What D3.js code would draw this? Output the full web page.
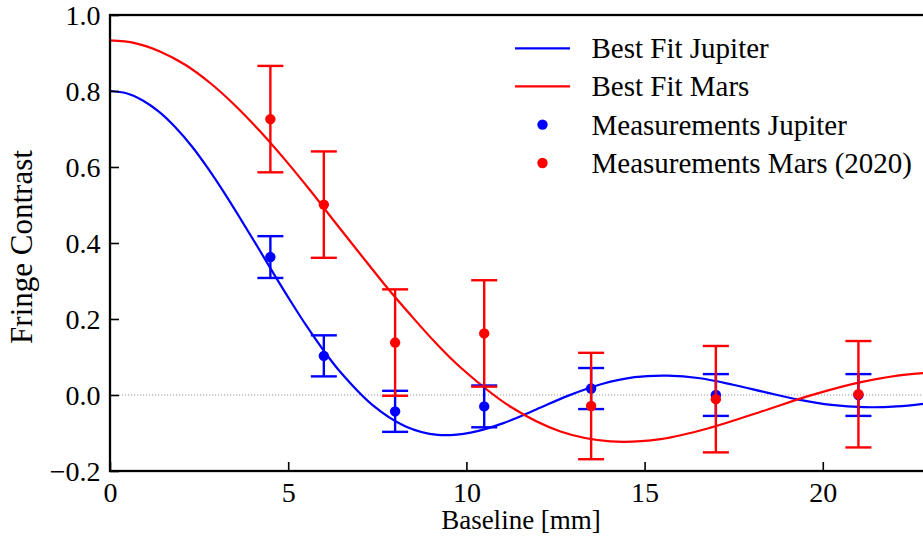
<!DOCTYPE html>
<html><head><meta charset="utf-8">
<script src="https://cdn.jsdelivr.net/npm/d3@7"></script>
<style>html,body{margin:0;padding:0;background:#fff;overflow:hidden}</style>
</head><body><svg id="c" width="923" height="548"></svg>
<script>
// ---- data ----
const baselineMm = [4.5, 6, 8, 10.5, 13.5, 17, 21];
const jupiterMeas = [0.363, 0.103, -0.043, -0.030, 0.017, 0.000, 0.000];
const jupiterErr  = [0.055, 0.054, 0.054, 0.055, 0.054, 0.055, 0.055];
const marsMeas    = [0.726, 0.501, 0.138, 0.162, -0.029, -0.011, 0.002];
const marsErr     = [0.140, 0.140, 0.140, 0.140, 0.140, 0.140, 0.140];

const fitJupiterX = [0, 0.46, 0.92, 1.38, 1.84, 2.30, 2.76, 3.22, 3.68, 4.14, 4.60, 5.06, 5.52, 5.98, 6.44, 7.36, 8.28, 9.20, 10.12, 11.04, 11.96, 12.88, 13.80, 14.72, 15.64, 16.56, 17.48, 18.40, 19.32, 20.24, 21.16, 22.08, 23.0];
const fitJupiterY = [0.800, 0.794, 0.775, 0.745, 0.704, 0.654, 0.595, 0.530, 0.461, 0.390, 0.318, 0.248, 0.181, 0.119, 0.063, -0.026, -0.082, -0.105, -0.099, -0.074, -0.038, -0.001, 0.029, 0.047, 0.051, 0.044, 0.027, 0.007, -0.012, -0.026, -0.032, -0.030, -0.021];

const fitMarsX = [0, 0.70, 1.40, 2.11, 2.81, 3.51, 4.21, 4.92, 5.62, 6.32, 7.02, 7.72, 8.43, 9.13, 9.83, 11.24, 12.64, 14.04, 15.45, 16.85, 18.26, 19.66, 21.07, 22.47, 23.88];
const fitMarsY = [0.933, 0.926, 0.904, 0.869, 0.821, 0.762, 0.694, 0.618, 0.538, 0.454, 0.371, 0.289, 0.211, 0.138, 0.073, -0.031, -0.096, -0.122, -0.116, -0.086, -0.044, -0.001, 0.034, 0.055, 0.060];

const xTicks = [0, 5, 10, 15, 20];
const yTicks = [-0.2, 0.0, 0.2, 0.4, 0.6, 0.8, 1.0];
const legendLabels = ["Best Fit Jupiter", "Best Fit Mars", "Measurements Jupiter", "Measurements Mars (2020)"];
const xLabel = "Baseline [mm]";
const yLabel = "Fringe Contrast";

// ---- drawing ----
const BLUE = "#0000ff", RED = "#ff0000";
const FONT = "'Liberation Serif', 'DejaVu Serif', serif";
const L = 110, T = 15, B = 471, R = 929.7;
const svg = d3.select("#c");
const x = d3.scaleLinear().domain([0, 23]).range([L, R]);
const y = d3.scaleLinear().domain([-0.2, 1.0]).range([B, T]);

svg.append("defs").append("clipPath").attr("id", "clip")
  .append("rect").attr("x", L).attr("y", T).attr("width", R - L).attr("height", B - T);

const plot = svg.append("g").attr("clip-path", "url(#clip)");

// zero reference line
plot.append("line")
  .attr("x1", x(0)).attr("x2", x(23)).attr("y1", y(0)).attr("y2", y(0))
  .attr("stroke", "#9a9a9a").attr("stroke-width", 1).attr("stroke-dasharray", "1.2,1.8");

const line = d3.line().x(d => x(d[0])).y(d => y(d[1])).curve(d3.curveCatmullRom.alpha(0.5));
plot.append("path").datum(d3.zip(fitJupiterX, fitJupiterY))
  .attr("d", line).attr("fill", "none").attr("stroke", BLUE).attr("stroke-width", 2.2);
plot.append("path").datum(d3.zip(fitMarsX, fitMarsY))
  .attr("d", line).attr("fill", "none").attr("stroke", RED).attr("stroke-width", 2.2);

function errorbars(vals, errs, color) {
  const g = plot.append("g");
  const data = baselineMm.map((b, i) => ({b, v: vals[i], e: errs[i]}));
  const cap = 13;
  g.selectAll("line.v").data(data).join("line").attr("class", "v")
    .attr("x1", d => x(d.b)).attr("x2", d => x(d.b))
    .attr("y1", d => y(d.v + d.e)).attr("y2", d => y(d.v - d.e))
    .attr("stroke", color).attr("stroke-width", 2.4);
  g.selectAll("line.ct").data(data).join("line").attr("class", "ct")
    .attr("x1", d => x(d.b) - cap).attr("x2", d => x(d.b) + cap)
    .attr("y1", d => y(d.v + d.e)).attr("y2", d => y(d.v + d.e))
    .attr("stroke", color).attr("stroke-width", 2.4);
  g.selectAll("line.cb").data(data).join("line").attr("class", "cb")
    .attr("x1", d => x(d.b) - cap).attr("x2", d => x(d.b) + cap)
    .attr("y1", d => y(d.v - d.e)).attr("y2", d => y(d.v - d.e))
    .attr("stroke", color).attr("stroke-width", 2.4);
  g.selectAll("circle").data(data).join("circle")
    .attr("cx", d => x(d.b)).attr("cy", d => y(d.v)).attr("r", 5.2).attr("fill", color);
}
errorbars(jupiterMeas, jupiterErr, BLUE);
errorbars(marsMeas, marsErr, RED);

// axes
const gx = svg.append("g").attr("transform", `translate(0,${B})`)
  .call(d3.axisBottom(x).tickValues(xTicks).tickSize(-9).tickPadding(11).tickFormat(d3.format("d")));
const gy = svg.append("g").attr("transform", `translate(${L},0)`)
  .call(d3.axisLeft(y).tickValues(yTicks).tickSize(-9).tickPadding(9.5).tickFormat(d3.format(".1f")));
[gx, gy].forEach(g => {
  g.attr("font-family", null).attr("font-size", null);
  g.select(".domain").remove();
  g.selectAll(".tick line").attr("stroke", "#000").attr("stroke-width", 1.6);
  g.selectAll(".tick text").attr("fill", "#000").style("font-family", FONT).style("font-size", "28px");
});
gy.selectAll(".tick text").attr("dy", null).attr("dominant-baseline", "central");

// frame
svg.append("rect").attr("x", L).attr("y", T).attr("width", R - L).attr("height", B - T)
  .attr("fill", "none").attr("stroke", "#000").attr("stroke-width", 2.3);

// axis labels
svg.append("text").attr("x", 521).attr("y", 529).attr("text-anchor", "middle")
  .style("font-family", FONT).style("font-size", "27px").text(xLabel);
svg.append("text").attr("transform", "translate(32,247) rotate(-90)").attr("text-anchor", "middle")
  .style("font-family", FONT).style("font-size", "31px").text(yLabel);

// legend
const rows = [48.3, 86.3, 124.6, 163];
const lg = svg.append("g");
const kinds = [{t: "line", c: BLUE}, {t: "line", c: RED}, {t: "dot", c: BLUE}, {t: "dot", c: RED}];
kinds.forEach((k, i) => {
  if (k.t === "line") {
    lg.append("line").attr("x1", 515).attr("x2", 570).attr("y1", rows[i]).attr("y2", rows[i])
      .attr("stroke", k.c).attr("stroke-width", 2.2);
  } else {
    lg.append("circle").attr("cx", 542.5).attr("cy", rows[i]).attr("r", 5.2).attr("fill", k.c);
  }
  lg.append("text").attr("x", 591.5).attr("y", rows[i]).attr("dominant-baseline", "central")
    .style("font-family", FONT).style("font-size", "29px").text(legendLabels[i]);
});
</script></body></html>
